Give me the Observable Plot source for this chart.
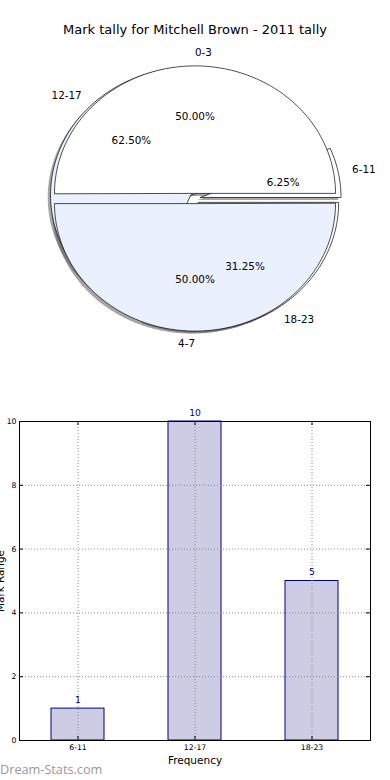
<!DOCTYPE html>
<html><head><meta charset="utf-8">
<script src="https://cdn.jsdelivr.net/npm/d3@7"></script>
<script src="https://cdn.jsdelivr.net/npm/@observablehq/plot@0.6"></script>
<style>
html,body{margin:0;padding:0;background:#fff}
body{width:390px;height:780px;position:relative;overflow:hidden;font-family:"DejaVu Sans",sans-serif}
#pie{position:absolute;left:0;top:0}
#title{position:absolute;left:0;top:22px;width:390px;text-align:center;font-size:13px;color:#000;line-height:16px}
#bar{position:absolute;left:0;top:400px}
#wm{position:absolute;left:0;top:761px;font-family:"Open Sans",sans-serif;font-size:12.7px;color:#999;line-height:16px}
</style></head><body>
<div id="pie"></div>
<div id="title"></div>
<div id="bar"></div>
<div id="wm"></div>
<script>
// ---- data ----
const title = "Mark tally for Mitchell Brown - 2011 tally";
const outerLabels = ["0-3", "4-7"];
const outerValues = [1, 1];
const categories = ["6-11", "12-17", "18-23"];
const counts = [1, 10, 5];
const yTicks = [0, 2, 4, 6, 8, 10];
const xLabel = "Frequency";
const yLabel = "Mark Range";
const watermark = "Dream-Stats.com";

// ---- styles ----
const wedgeColors = ["#ffffff", "#eaf0fd"];
const EXPLODE = 0.04, LABEL_R = 1.1, PCT_R = 0.6, SH = 0.02;
const FONT = "DejaVu Sans, sans-serif";

document.getElementById("title").textContent = title;
document.getElementById("wm").textContent = watermark;

function wedges(labels, values, pid) {
  const total = d3.sum(values);
  let acc = 0;
  return labels.map((label, i) => {
    const frac = values[i] / total;
    const a0 = acc * 2 * Math.PI; acc += frac; const a1 = acc * 2 * Math.PI;
    const mid = (a0 + a1) / 2;
    const cx = EXPLODE * Math.cos(mid), cy = EXPLODE * Math.sin(mid);
    const n = Math.max(2, Math.ceil((a1 - a0) / (Math.PI / 180)));
    const pts = [{x: cx, y: cy}];
    for (let k = 0; k <= n; k++) {
      const a = a0 + (a1 - a0) * k / n;
      pts.push({x: cx + Math.cos(a), y: cy + Math.sin(a)});
    }
    return {
      label, frac, mid, cx, cy, pts, color: wedgeColors[i % 2], pid,
      lx: cx + LABEL_R * Math.cos(mid), ly: cy + LABEL_R * Math.sin(mid),
      px: cx + PCT_R * Math.cos(mid), py: cy + PCT_R * Math.sin(mid),
      right: Math.cos(mid) > 0
    };
  });
}

const pieB = wedges(categories, counts, "b");
const pieA = wedges(outerLabels, outerValues, "a");
const all = [...pieB, ...pieA];

const pieMarks = [];
for (const w of all) {
  pieMarks.push(Plot.line(w.pts, {x: d => d.x - SH, y: d => d.y - SH, curve: "linear-closed",
    fill: "#4d4d4d", fillOpacity: 0.5, stroke: "none"}));
}
for (const w of all) {
  pieMarks.push(Plot.line(w.pts, {x: "x", y: "y", curve: "linear-closed",
    fill: w.color, stroke: "black", strokeWidth: 0.7}));
}
pieMarks.push(Plot.text(all.filter(w => w.right), {x: "lx", y: "ly", text: "label", textAnchor: "start", fontSize: 10.4, fill: "black"}));
pieMarks.push(Plot.text(all.filter(w => !w.right), {x: "lx", y: "ly", text: "label", textAnchor: "end", fontSize: 10.4, fill: "black"}));
pieMarks.push(Plot.text(all, {x: "px", y: "py", text: w => d3.format(".2f")(w.frac * 100) + "%", textAnchor: "middle", fontSize: 10.4, fill: "black"}));

const pie = Plot.plot({
  width: 390, height: 370,
  style: {fontFamily: FONT, background: "transparent", overflow: "visible"},
  x: {domain: [-1, 1], range: [54, 335], axis: null},
  y: {domain: [-1, 1], range: [325.5, 70.5], axis: null},
  marks: pieMarks
});
document.getElementById("pie").appendChild(pie);

// ---- bar chart ----
const barData = categories.map((c, i) => ({cat: c, count: counts[i]}));
const W = 390, H = 380, ML = 19, MR = 20, MT = 21, MB = 40;
const FW = W - ML - MR, FH = H - MT - MB, TL = 4;
const grid = {stroke: "#8c8c8c", strokeOpacity: 1, strokeWidth: 1, strokeDasharray: "1,2"};

const bar = Plot.plot({
  width: W, height: H, marginLeft: ML, marginRight: MR, marginTop: MT, marginBottom: MB,
  style: {fontFamily: FONT, fontSize: "7.7px", background: "white", overflow: "visible"},
  x: {type: "band", domain: categories, paddingInner: 0.55, paddingOuter: 0.275, label: null, axis: null},
  y: {domain: [0, 10], label: null, axis: null},
  marks: [
    Plot.barY(barData, {x: "cat", y: "count", fill: "#ccccE5", stroke: "#000080", strokeWidth: 1}),
    Plot.ruleY(yTicks.filter(t => t > 0 && t < 10), {y: d => d, ...grid}),
    Plot.ruleX(categories, {x: d => d, ...grid}),
    Plot.text(barData, {x: "cat", y: "count", text: d => String(d.count), dy: -6, lineAnchor: "bottom", fill: "#000080", fontSize: 9.2}),
    Plot.frame({stroke: "black", strokeWidth: 1}),
    Plot.tickY(yTicks, {y: d => d, insetRight: FW - TL, stroke: "black"}),
    Plot.tickY(yTicks, {y: d => d, insetLeft: FW - TL, stroke: "black"}),
    Plot.tickX(categories, {x: d => d, insetTop: FH - TL, stroke: "black"}),
    Plot.tickX(categories, {x: d => d, insetBottom: FH - TL, stroke: "black"}),
    Plot.axisY(yTicks, {tickSize: 0, tickPadding: 3, label: null, fontSize: 7.7}),
    Plot.axisX({tickSize: 0, tickPadding: 4, label: null, fontSize: 7.7}),
    Plot.text([xLabel], {text: d => d, frameAnchor: "bottom", dy: 23, fontSize: 10.5, fill: "black"}),
    Plot.text([yLabel], {text: d => d, frameAnchor: "left", textAnchor: "middle", rotate: -90, dx: -16, lineAnchor: "bottom", fontSize: 10.4, fill: "black"})
  ]
});
document.getElementById("bar").appendChild(bar);
</script>
</body></html>
